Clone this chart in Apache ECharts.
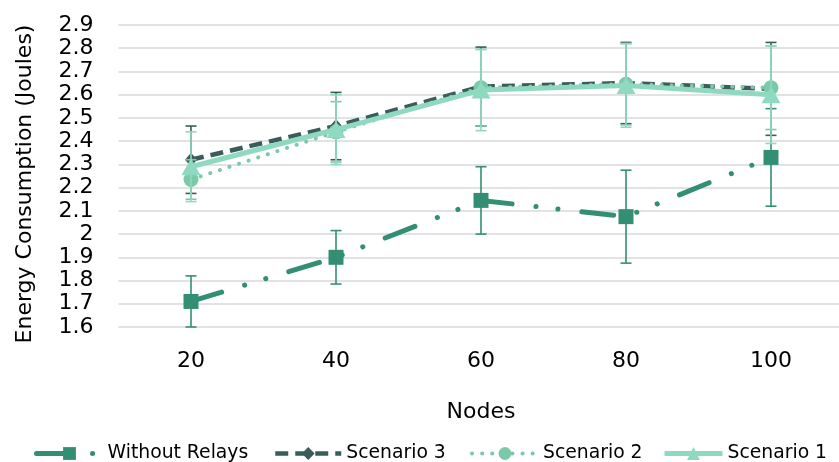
<!DOCTYPE html>
<html>
<head>
<meta charset="utf-8">
<script src="https://cdn.jsdelivr.net/npm/echarts@6/dist/echarts.min.js"></script>
<style>
html,body{margin:0;padding:0;background:#fff;overflow:hidden;}
#chart{width:846px;height:462px;}
</style>
</head>
<body>
<div id="chart"></div>
<script>
// ---- data ----
var categories = ['20', '40', '60', '80', '100'];
var seriesNames = ['Without Relays', 'Scenario 3', 'Scenario 2', 'Scenario 1'];
var withoutRelays = [1.71, 1.90, 2.145, 2.075, 2.33];
var withoutRelaysErr = [0.11, 0.115, 0.145, 0.20, 0.21];
var scenario3 = [2.32, 2.465, 2.635, 2.65, 2.625];
var scenario3Err = [0.145, 0.145, 0.17, 0.175, 0.20];
var scenario2 = [2.235, 2.44, 2.63, 2.645, 2.63];
var scenario2Err = [0.085, 0.13, 0.165, 0.175, 0.18];
var scenario1 = [2.29, 2.45, 2.62, 2.64, 2.60];
var scenario1Err = [0.15, 0.15, 0.175, 0.18, 0.21];
var yMin = 1.6, yMax = 2.9, yStep = 0.1;

// ---- styling ----
var FONT = 'DejaVu Sans';
var colors = ['#338f73', '#3a5c5a', '#7cc9aa', '#90d9c1'];
var lineWidths = [5, 4.5, 4, 5];
var legendLefts = [34, 273, 470, 662];
var legendItemWidths = [66, 66, 66, 58];

function errData(vals, errs) {
  return vals.map(function (v, i) { return [i, v - errs[i], v + errs[i]]; });
}
function errSeries(name, vals, errs, color, z) {
  return {
    type: 'custom',
    name: name + ' err',
    z: z,
    silent: true,
    data: errData(vals, errs),
    encode: { x: 0, y: [1, 2] },
    renderItem: function (params, api) {
      var i = api.value(0);
      var lo = api.coord([i, api.value(1)]);
      var hi = api.coord([i, api.value(2)]);
      var w = 5.5;
      var st = { stroke: color, lineWidth: 1.6 };
      return {
        type: 'group',
        children: [
          { type: 'line', shape: { x1: lo[0], y1: lo[1], x2: hi[0], y2: hi[1] }, style: st },
          { type: 'line', shape: { x1: lo[0] - w, y1: lo[1], x2: lo[0] + w, y2: lo[1] }, style: st },
          { type: 'line', shape: { x1: hi[0] - w, y1: hi[1], x2: hi[0] + w, y2: hi[1] }, style: st }
        ]
      };
    }
  };
}

var legends = seriesNames.map(function (n, k) {
  return {
    data: [{ name: n, lineStyle: { width: lineWidths[k] } }],
    left: legendLefts[k],
    top: 444,
    padding: 0,
    itemWidth: legendItemWidths[k],
    itemHeight: 16,
    textStyle: { fontFamily: FONT, fontSize: 18.8, color: '#000' }
  };
});

var chart = echarts.init(document.getElementById('chart'), null, { renderer: 'canvas' });
var option = {
  animation: false,
  textStyle: { fontFamily: FONT },
  grid: { left: 118.5, top: 25, width: 725, height: 302, containLabel: false },
  legend: legends,
  xAxis: {
    type: 'category',
    data: categories,
    boundaryGap: true,
    name: 'Nodes',
    nameLocation: 'middle',
    nameGap: 74,
    nameTextStyle: { fontFamily: FONT, fontSize: 22, color: '#000' },
    axisLine: { show: false },
    axisTick: { show: false },
    axisLabel: { fontFamily: FONT, fontSize: 22, color: '#000', margin: 23 },
    splitLine: { show: false }
  },
  yAxis: {
    type: 'value',
    min: yMin,
    max: yMax,
    interval: yStep,
    name: 'Energy Consumption (Joules)',
    nameLocation: 'middle',
    nameGap: 82,
    nameRotate: 90,
    nameTextStyle: { fontFamily: FONT, fontSize: 22, color: '#000', padding: [0, 16, 0, 0] },
    axisLine: { show: false },
    axisTick: { show: false },
    axisLabel: { fontFamily: FONT, fontSize: 22, color: '#000', margin: 25 },
    splitLine: { show: true, lineStyle: { color: '#d9d9d9', width: 1.5 } }
  },
  series: [
    errSeries(seriesNames[0], withoutRelays, withoutRelaysErr, colors[0], 2),
    {
      name: seriesNames[0], type: 'line', data: withoutRelays, z: 3,
      symbol: 'rect', symbolSize: 15,
      itemStyle: { color: colors[0] },
      lineStyle: { color: colors[0], width: lineWidths[0], type: [32, 24, 0.1, 22, 0.1, 24], cap: 'round' }
    },
    errSeries(seriesNames[1], scenario3, scenario3Err, colors[1], 4),
    {
      name: seriesNames[1], type: 'line', data: scenario3, z: 5,
      symbol: 'diamond', symbolSize: [12, 14],
      itemStyle: { color: colors[1] },
      lineStyle: { color: colors[1], width: lineWidths[1], type: [13, 7] }
    },
    errSeries(seriesNames[2], scenario2, scenario2Err, colors[2], 6),
    {
      name: seriesNames[2], type: 'line', data: scenario2, z: 7,
      symbol: 'circle', symbolSize: 15,
      itemStyle: { color: colors[2] },
      lineStyle: { color: colors[2], width: lineWidths[2], type: [0.1, 10], cap: 'round' }
    },
    errSeries(seriesNames[3], scenario1, scenario1Err, colors[3], 8),
    {
      name: seriesNames[3], type: 'line', data: scenario1, z: 9,
      symbol: 'triangle', symbolSize: [19, 17],
      itemStyle: { color: colors[3] },
      lineStyle: { color: colors[3], width: lineWidths[3] }
    }
  ]
};
chart.setOption(option);
</script>
</body>
</html>
